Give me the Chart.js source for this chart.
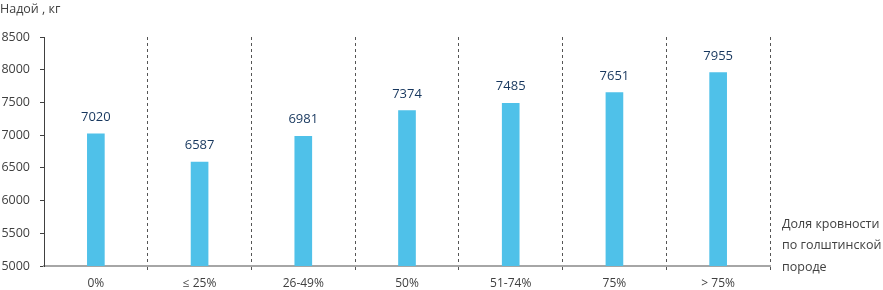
<!DOCTYPE html>
<html>
<head>
<meta charset="utf-8">
<script src="https://cdn.jsdelivr.net/npm/chart.js@4"></script>
<style>
    html, body { margin: 0; padding: 0; background: #fff; }
    #wrap { width: 883px; height: 290px; position: relative; }
</style>
</head>
<body>
<div id="wrap"><canvas id="milkChart"></canvas></div>
<script>
const categories = ["0%", "≤ 25%", "26-49%", "50%", "51-74%", "75%", "> 75%"];
const milkYield = [7020, 6587, 6981, 7374, 7485, 7651, 7955];
const yTitle = "Надой , кг";
const xTitle = ["Доля кровности", "по голштинской", "породе"];

const FONT = "'Open Sans', 'Noto Sans', sans-serif";

// values over bars + axis captions
const labelsPlugin = {
    id: "labelsPlugin",
    afterDatasetsDraw(chart) {
        const ctx = chart.ctx;
        const meta = chart.getDatasetMeta(0);
        ctx.save();
        ctx.font = "13px " + FONT;
        ctx.fillStyle = "#17375e";
        ctx.textAlign = "center";
        ctx.textBaseline = "alphabetic";
        meta.data.forEach((bar, i) => {
            ctx.fillText(String(milkYield[i]), bar.x, bar.y - 13);
        });

        ctx.font = "12.5px " + FONT;
        ctx.fillStyle = "#404040";
        ctx.textAlign = "left";
        ctx.textBaseline = "middle";
        ctx.fillText(yTitle, 0, 9);
        const x0 = chart.chartArea.right + 12;
        xTitle.forEach((line, i) => {
            ctx.fillText(line, x0, 224 + i * 21.5);
        });
        ctx.restore();
    }
};

const ctx = document.getElementById("milkChart").getContext("2d");

const chart = new Chart(ctx, {
    type: "bar",
    data: {
        labels: categories,
        datasets: [{
            data: milkYield,
            backgroundColor: "#4fc1e9",
            barThickness: 17
        }]
    },
    options: {
        responsive: true,
        maintainAspectRatio: false,
        animation: false,
        layout: {
            padding: { top: 37, right: 113, left: 0, bottom: 0 }
        },
        plugins: {
            legend: { display: false },
            tooltip: { enabled: false }
        },
        scales: {
            x: {
                offset: true,
                grid: {
                    offset: true,
                    color: (c) => c.index === 0 ? "rgba(0,0,0,0)" : "#555",
                    tickColor: (c) => c.index === 0 ? "rgba(0,0,0,0)" : "#555",
                    tickBorderDash: [3, 3],
                    tickLength: 6,
                    lineWidth: 1
                },
                border: { color: "#a6a6a6", width: 2, dash: [3, 3] },
                ticks: {
                    color: "#404040",
                    font: { family: FONT, size: 12 },
                    padding: 4
                },
                afterFit(scale) { scale.height = 24; }
            },
            y: {
                min: 5000,
                max: 8500,
                ticks: {
                    stepSize: 500,
                    color: "#404040",
                    font: { family: FONT, size: 12.5 },
                    padding: 10,
                    callback: (v) => String(v)
                },
                grid: {
                    drawOnChartArea: false,
                    drawTicks: true,
                    tickLength: 4,
                    color: "#404040"
                },
                border: { color: "#404040", width: 1 },
                afterFit(scale) { scale.width = 44; }
            }
        }
    },
    plugins: [labelsPlugin]
});
</script>
</body>
</html>
